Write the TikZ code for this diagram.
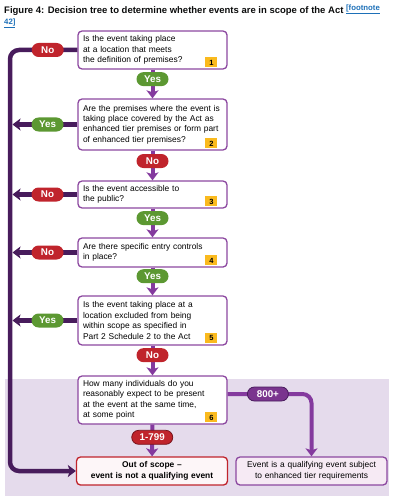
\documentclass[tikz,border=0pt]{standalone}
\usepackage{fontspec}
\setmainfont{Liberation Sans}
\usepackage{tikz}
\usetikzlibrary{arrows.meta}
\usepackage{xcolor}

\definecolor{boxpurple}{RGB}{140,72,160}
\definecolor{flowpurple}{RGB}{132,58,158}
\definecolor{darkpurple}{RGB}{72,28,92}
\definecolor{nored}{RGB}{192,36,44}
\definecolor{darkred}{RGB}{120,18,28}
\definecolor{yesgreen}{RGB}{92,152,50}
\definecolor{countpurple}{RGB}{122,52,142}
\definecolor{badgeyellow}{RGB}{250,186,30}
\definecolor{lavender}{RGB}{229,219,236}
\definecolor{resultfill}{RGB}{246,234,244}
\definecolor{outfill}{RGB}{253,246,248}
\definecolor{linkblue}{RGB}{29,112,184}
\definecolor{titleblack}{RGB}{11,12,12}

\begin{document}
\begin{tikzpicture}[x=1pt,y=-1pt,
  qbox/.style={draw=boxpurple, line width=1.3pt, rounded corners=4pt, fill=white,
    text width=139pt, inner xsep=5pt, inner ysep=0pt, align=left,
    font=\fontsize{8.4}{10.4}\selectfont},
  badge/.style={fill=badgeyellow, minimum width=12pt, minimum height=10pt, inner sep=0pt,
    anchor=south east, font=\bfseries\fontsize{7.5}{7.5}\selectfont},
  pill/.style={rounded corners=7pt, minimum height=14pt, minimum width=32pt, inner sep=1pt,
    text=white, font=\bfseries\fontsize{9.8}{10}\selectfont},
  nopill/.style={pill, fill=nored},
  yespill/.style={pill, fill=yesgreen},
  countpill/.style={pill, minimum width=41pt, line width=0.8pt},
  flow/.style={flowpurple, line width=4pt, -{Stealth[length=8pt,width=12pt,inset=2pt]}},
  back/.style={darkpurple, line width=4.5pt, -{Stealth[length=8pt,width=12pt,inset=2pt]}},
  endbox/.style={line width=1.3pt, rounded corners=4pt, minimum height=28pt,
    text width=141pt, inner xsep=5pt, inner ysep=0pt, align=center,
    font=\fontsize{8.4}{10.4}\selectfont}]

  \useasboundingbox (0,0) rectangle (400,500);
  \fill[lavender] (5,379) rectangle (389,496);

  % title
  \node[anchor=north west, align=left, inner sep=0pt, text=titleblack,
    font=\bfseries\fontsize{9.5}{10.8}\selectfont] (title) at (4,4.5)
    {Figure 4: Decision tree to determine whether events are in scope of the Act
     \raisebox{3pt}{\fontsize{7.8}{8}\selectfont\color{linkblue}\underline{[footnote}}\\
     {\fontsize{7.8}{8}\selectfont\color{linkblue}\underline{42]}}};

  \coordinate (trunk) at (10,0);
  \coordinate (spine) at (12.5,0);

  % questions
  \node[qbox, minimum height=38pt] (q1) at (152.5,50)
    {Is the event taking place\\at a location that meets\\the definition of premises?};
  \node[qbox, minimum height=51pt] (q2) at (152.5,124.5)
    {Are the premises where the event is\\taking place covered by the Act as\\enhanced tier premises or form part\\of enhanced tier premises?};
  \node[qbox, minimum height=27pt] (q3) at (152.5,194.5)
    {Is the event accessible to\\the public?};
  \node[qbox, minimum height=29pt] (q4) at (152.5,252.5)
    {Are there specific entry controls\\in place?};
  \node[qbox, minimum height=49pt] (q5) at (152.5,320.5)
    {Is the event taking place at a\\location excluded from being\\within scope as specified in\\Part 2 Schedule 2 to the Act};
  \node[qbox, minimum height=48pt] (q6) at (152.5,400)
    {How many individuals do you\\reasonably expect to be present\\at the event at the same time,\\at some point};

  \node[badge] (b1) at ([xshift=-10pt,yshift=2pt]q1.south east) {1};
  \node[badge] (b2) at ([xshift=-10pt,yshift=2pt]q2.south east) {2};
  \node[badge] (b3) at ([xshift=-10pt,yshift=2pt]q3.south east) {3};
  \node[badge] (b4) at ([xshift=-10pt,yshift=2pt]q4.south east) {4};
  \node[badge] (b5) at ([xshift=-10pt,yshift=2pt]q5.south east) {5};
  \node[badge] (b6) at ([xshift=-10pt,yshift=2pt]q6.south east) {6};

  % outcomes
  \node[endbox, draw=nored, fill=outfill, font=\bfseries\fontsize{8.4}{10.4}\selectfont] (out)
    at (152,471) {Out of scope --\\event is not a qualifying event};
  \node[endbox, draw=boxpurple, fill=resultfill] (res) at (311.5,471)
    {Event is a qualifying event subject\\to enhanced tier requirements};

  % down the tree
  \draw[flow] (q1) -- node[yespill, pos=0.33] (y1) {Yes} (q2);
  \draw[flow] (q2) -- node[nopill, pos=0.35] (n2) {No} (q3);
  \draw[flow] (q3) -- node[yespill, pos=0.33] (y3) {Yes} (q4);
  \draw[flow] (q4) -- node[yespill, pos=0.31] (y4) {Yes} (q5);
  \draw[flow] (q5) -- node[nopill, pos=0.32] (n5) {No} (q6);
  \draw[flow] (q6) -- node[countpill, fill=nored, draw=darkred, pos=0.4] (c1) {1-799} (out);
  \draw[flow, rounded corners=9pt] ([yshift=6pt]q6.east) -|
    node[countpill, fill=countpurple, draw=darkpurple, pos=0.24] (c2) {800+} (res.north);

  % back to out of scope
  \draw[back, rounded corners=9pt] (q1) -- node[nopill, pos=0.44] (l1) {No} (q1 -| trunk)
    -- (trunk |- out) -- (out);
  \draw[back] (q2) -- node[yespill, pos=0.46] (l2) {Yes} (q2 -| spine);
  \draw[back] (q3) -- node[nopill, pos=0.46] (l3) {No} (q3 -| spine);
  \draw[back] (q4) -- node[nopill, pos=0.46] (l4) {No} (q4 -| spine);
  \draw[back] (q5) -- node[yespill, pos=0.46] (l5) {Yes} (q5 -| spine);

\end{tikzpicture}
\end{document}
